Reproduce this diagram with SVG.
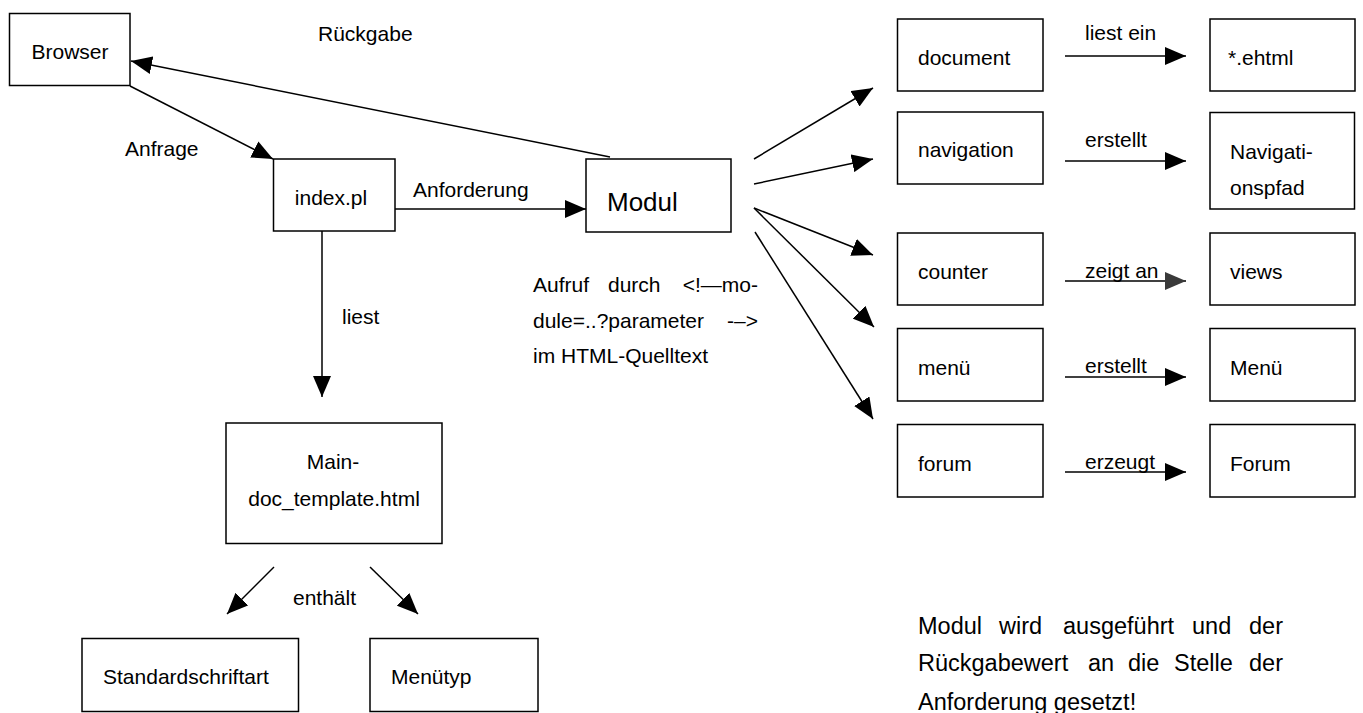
<svg xmlns="http://www.w3.org/2000/svg" width="1363" height="713" viewBox="0 0 1363 713">
<style>
.box{fill:#fff;stroke:#000;stroke-width:1.5}
.t{font-family:"Liberation Sans",Arial,sans-serif;font-size:21px;fill:#000}
.n{font-size:23.5px}
.c{text-anchor:middle}
.e{text-anchor:end}
.ln{stroke:#000;stroke-width:1.5;fill:none}
</style>
<defs>
<marker id="ah" markerUnits="userSpaceOnUse" markerWidth="22" markerHeight="18" refX="21" refY="9" orient="auto">
<path d="M0,0 L21,9 L0,18 z" fill="#000"/>
</marker>
<marker id="ahg" markerUnits="userSpaceOnUse" markerWidth="22" markerHeight="18" refX="21" refY="9" orient="auto">
<path d="M0,0 L21,9 L0,18 z" fill="#3a3a3a"/>
</marker>
</defs>
<rect width="1363" height="713" fill="#fff"/>

<g id="connectors">
<line class="ln" x1="130" y1="86" x2="273" y2="159" marker-end="url(#ah)"/>
<line class="ln" x1="610" y1="157" x2="131" y2="61" marker-end="url(#ah)"/>
<line class="ln" x1="395" y1="209" x2="586" y2="209" marker-end="url(#ah)"/>
<line class="ln" x1="322" y1="231" x2="322" y2="397" marker-end="url(#ah)"/>
<line class="ln" x1="274" y1="567" x2="227" y2="614" marker-end="url(#ah)"/>
<line class="ln" x1="370" y1="567" x2="418" y2="614" marker-end="url(#ah)"/>
<line class="ln" x1="754" y1="159" x2="873" y2="88" marker-end="url(#ah)"/>
<line class="ln" x1="754" y1="184" x2="873" y2="159" marker-end="url(#ah)"/>
<line class="ln" x1="754" y1="208" x2="873" y2="255" marker-end="url(#ah)"/>
<line class="ln" x1="754" y1="208" x2="874" y2="327" marker-end="url(#ah)"/>
<line class="ln" x1="755" y1="232" x2="873" y2="419" marker-end="url(#ah)"/>
<line class="ln" x1="1065" y1="56" x2="1186" y2="56" marker-end="url(#ah)"/>
<line class="ln" x1="1065" y1="161" x2="1186" y2="161" marker-end="url(#ah)"/>
<line class="ln" x1="1065" y1="281" x2="1186" y2="281" marker-end="url(#ahg)"/>
<line class="ln" x1="1065" y1="377" x2="1186" y2="377" marker-end="url(#ah)"/>
<line class="ln" x1="1065" y1="472" x2="1186" y2="472" marker-end="url(#ah)"/>
</g>

<g id="labels">
<text class="t" x="318" y="41">Rückgabe</text>
<text class="t" x="125" y="156">Anfrage</text>
<text class="t" x="413" y="197">Anforderung</text>
<text class="t" x="342" y="324">liest</text>
<text class="t" x="293" y="605">enthält</text>
<text class="t" x="1085" y="40">liest ein</text>
<text class="t" x="1085" y="147">erstellt</text>
<text class="t" x="1085" y="278">zeigt an</text>
<text class="t" x="1085" y="373">erstellt</text>
<text class="t" x="1085" y="469">erzeugt</text>
</g>

<g id="note-aufruf">
<text class="t" x="533" y="292">Aufruf</text>
<text class="t" x="608" y="292">durch</text>
<text class="t e" x="758" y="292">&lt;!—mo-</text>
<text class="t" x="533" y="328">dule=..?parameter</text>
<text class="t e" x="758" y="328">-–&gt;</text>
<text class="t" x="533" y="363">im HTML-Quelltext</text>
</g>

<g id="note-modul">
<text class="t n" x="918" y="633.5">Modul</text>
<text class="t n" x="999" y="633.5">wird</text>
<text class="t n" x="1063" y="633.5">ausgeführt</text>
<text class="t n" x="1192" y="633.5">und</text>
<text class="t n e" x="1283" y="633.5">der</text>
<text class="t n" x="918" y="670.5">Rückgabewert</text>
<text class="t n" x="1088" y="670.5">an</text>
<text class="t n" x="1128" y="670.5">die</text>
<text class="t n" x="1174" y="670.5">Stelle</text>
<text class="t n e" x="1283" y="670.5">der</text>
<text class="t n" x="918" y="710">Anforderung gesetzt!</text>
</g>

<g id="browser"><rect class="box" x="9.5" y="13.5" width="120.5" height="72"/><text class="t c" x="70" y="59">Browser</text></g>
<g id="index"><rect class="box" x="273.5" y="159" width="121.5" height="72"/><text class="t c" x="331" y="205">index.pl</text></g>
<g id="modul"><rect class="box" x="586" y="159" width="145" height="73"/><text class="t" x="607" y="211" style="font-size:26px">Modul</text></g>
<g id="maindoc"><rect class="box" x="226" y="423" width="216" height="120.5"/><text class="t c" x="333" y="469">Main-</text><text class="t c" x="334" y="506">doc_template.html</text></g>
<g id="standard"><rect class="box" x="82" y="638.5" width="216.5" height="73"/><text class="t" x="103" y="684">Standardschriftart</text></g>
<g id="menutyp"><rect class="box" x="370" y="638.5" width="168" height="73"/><text class="t" x="391" y="684">Menütyp</text></g>

<g id="document"><rect class="box" x="897.5" y="19" width="145.5" height="72"/><text class="t" x="918" y="65">document</text></g>
<g id="navigation"><rect class="box" x="897.5" y="112" width="145.5" height="72"/><text class="t" x="918" y="157">navigation</text></g>
<g id="counter"><rect class="box" x="897.5" y="233" width="145.5" height="72"/><text class="t" x="918" y="279">counter</text></g>
<g id="menu"><rect class="box" x="897.5" y="328.5" width="145.5" height="72.5"/><text class="t" x="918" y="375">menü</text></g>
<g id="forum"><rect class="box" x="897.5" y="424.5" width="145.5" height="72.5"/><text class="t" x="918" y="471">forum</text></g>

<g id="ehtml"><rect class="box" x="1210" y="19" width="145" height="72"/><text class="t" x="1228" y="65">*.ehtml</text></g>
<g id="navpfad"><rect class="box" x="1210" y="112.5" width="144.5" height="96.5"/><text class="t" x="1230" y="159">Navigati-</text><text class="t" x="1230" y="195">onspfad</text></g>
<g id="views"><rect class="box" x="1210" y="233" width="145" height="72"/><text class="t" x="1230" y="279">views</text></g>
<g id="menu2"><rect class="box" x="1210" y="328.5" width="145" height="72.5"/><text class="t" x="1230" y="375">Menü</text></g>
<g id="forum2"><rect class="box" x="1210" y="424.5" width="145" height="72.5"/><text class="t" x="1230" y="471">Forum</text></g>
</svg>
